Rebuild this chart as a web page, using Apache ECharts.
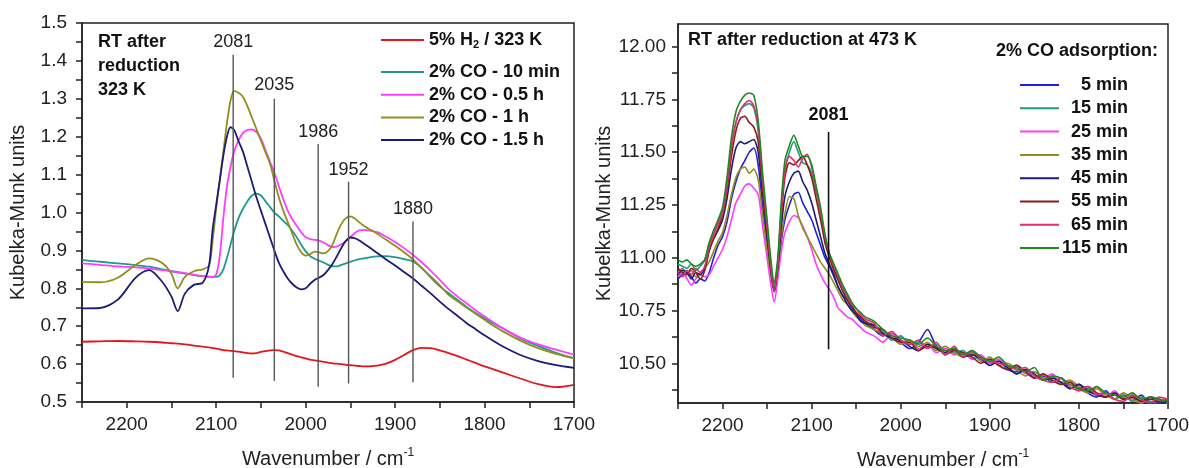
<!DOCTYPE html>
<html><head><meta charset="utf-8">
<script src="https://cdn.jsdelivr.net/npm/echarts@6/dist/echarts.min.js"></script>
<style>html,body{margin:0;padding:0;background:#fff}#c{width:1189px;height:468px}</style>
</head><body><div id="c"></div>
<script>
// ---------- LEFT PANEL DATA ----------
const wnLeft = [2250,2230,2210,2190,2175,2160,2150,2143,2135,2125,2115,2108,2104,2100,2096,2092,2088,2084,2080,2075,2070,2065,2060,2055,2050,2045,2040,2035,2030,2025,2020,2015,2010,2005,2000,1995,1990,1985,1980,1975,1970,1965,1960,1955,1950,1945,1940,1935,1930,1920,1910,1900,1890,1880,1870,1860,1850,1840,1830,1820,1810,1800,1790,1780,1760,1740,1720,1700];
const leftNames = ['5% H2 / 323 K','2% CO - 10 min','2% CO - 0.5 h','2% CO - 1 h','2% CO - 1.5 h'];
const h2_323K = [0.659,0.660,0.661,0.660,0.659,0.657,0.655,0.654,0.652,0.649,0.646,0.644,0.643,0.641,0.639,0.637,0.636,0.635,0.634,0.633,0.631,0.629,0.628,0.629,0.632,0.634,0.636,0.637,0.636,0.633,0.629,0.625,0.621,0.618,0.615,0.612,0.610,0.608,0.606,0.604,0.602,0.601,0.600,0.598,0.597,0.596,0.595,0.594,0.594,0.596,0.601,0.611,0.624,0.637,0.643,0.642,0.636,0.629,0.621,0.612,0.603,0.594,0.586,0.578,0.562,0.547,0.539,0.545];
const co_10min = [0.875,0.870,0.866,0.861,0.857,0.850,0.845,0.842,0.839,0.835,0.832,0.831,0.830,0.830,0.834,0.850,0.880,0.915,0.950,0.985,1.010,1.030,1.045,1.050,1.045,1.030,1.015,1.000,0.990,0.978,0.967,0.952,0.935,0.915,0.898,0.885,0.878,0.873,0.868,0.862,0.858,0.858,0.862,0.866,0.870,0.874,0.877,0.879,0.881,0.884,0.885,0.882,0.877,0.871,0.853,0.828,0.805,0.787,0.769,0.751,0.735,0.721,0.707,0.695,0.668,0.648,0.630,0.616];
const co_05h = [0.866,0.862,0.858,0.855,0.852,0.848,0.845,0.843,0.840,0.836,0.832,0.830,0.830,0.836,0.885,0.985,1.068,1.120,1.160,1.190,1.210,1.218,1.219,1.212,1.195,1.165,1.135,1.105,1.070,1.035,1.005,0.983,0.965,0.948,0.935,0.930,0.928,0.926,0.921,0.914,0.909,0.910,0.916,0.925,0.935,0.946,0.953,0.954,0.953,0.948,0.936,0.922,0.906,0.888,0.868,0.846,0.822,0.797,0.778,0.760,0.742,0.726,0.710,0.695,0.670,0.652,0.638,0.625];
const co_1h = [0.817,0.816,0.828,0.862,0.879,0.866,0.838,0.800,0.830,0.845,0.850,0.860,0.925,1.010,1.085,1.160,1.235,1.295,1.320,1.316,1.305,1.280,1.250,1.220,1.190,1.160,1.130,1.085,1.040,1.005,0.975,0.945,0.915,0.895,0.886,0.890,0.897,0.895,0.892,0.898,0.915,0.945,0.970,0.985,0.990,0.984,0.974,0.965,0.958,0.944,0.928,0.912,0.895,0.876,0.853,0.831,0.808,0.782,0.766,0.749,0.733,0.717,0.701,0.687,0.662,0.642,0.627,0.615];
const co_15h = [0.747,0.748,0.770,0.828,0.848,0.816,0.778,0.740,0.786,0.809,0.815,0.860,0.955,1.020,1.085,1.150,1.200,1.225,1.218,1.188,1.160,1.120,1.080,1.040,1.005,0.970,0.935,0.900,0.868,0.845,0.826,0.812,0.802,0.797,0.800,0.812,0.822,0.828,0.835,0.848,0.864,0.885,0.907,0.925,0.934,0.932,0.926,0.918,0.910,0.893,0.876,0.860,0.843,0.826,0.806,0.786,0.765,0.745,0.727,0.708,0.692,0.676,0.661,0.647,0.624,0.608,0.597,0.590];
const leftColors = ['#e8141c','#1e9a8c','#ff3cff','#8f8f1e','#1c1c78'];
// peak annotations (left)
const annLeftWn = [2081,2035,1986,1952,1880];
const annLeftTop = [1.416,1.300,1.181,1.081,0.976];
const annLeftBottom = [0.564,0.556,0.540,0.549,0.552];
const annLeftLabelY = [1.451,1.336,1.213,1.112,1.008];

// ---------- RIGHT PANEL DATA ----------
const wnRight = [2250,2245,2240,2235,2230,2225,2220,2215,2210,2205,2200,2195,2190,2185,2180,2175,2170,2165,2160,2155,2150,2146,2142,2138,2134,2130,2125,2120,2115,2110,2105,2100,2095,2090,2085,2080,2075,2070,2065,2060,2055,2050,2045,2040,2030,2020,2010,2000,1990,1980,1970,1960,1950,1940,1930,1920,1910,1900,1890,1880,1870,1860,1850,1840,1830,1820,1810,1800,1790,1780,1770,1760,1750,1740,1730,1720,1710,1700];
const rightNames = ['5 min','15 min','25 min','35 min','45 min','55 min','65 min','115 min'];
const t5 = [10.90,10.92,10.93,10.91,10.88,10.90,10.89,10.93,11.00,11.06,11.10,11.17,11.28,11.36,11.42,11.46,11.50,11.52,11.44,11.24,11.07,10.93,10.84,10.93,11.08,11.18,11.25,11.30,11.31,11.26,11.22,11.18,11.12,11.06,11.00,10.96,10.91,10.86,10.82,10.80,10.76,10.74,10.71,10.69,10.66,10.63,10.64,10.60,10.57,10.60,10.66,10.58,10.55,10.57,10.53,10.55,10.52,10.50,10.51,10.47,10.46,10.47,10.43,10.44,10.41,10.43,10.38,10.40,10.36,10.34,10.37,10.33,10.35,10.32,10.35,10.31,10.33,10.31];
const t15 = [10.97,10.96,10.95,10.97,10.94,10.96,10.99,11.07,11.12,11.17,11.22,11.36,11.53,11.64,11.70,11.72,11.73,11.71,11.60,11.36,11.15,10.97,10.86,10.98,11.23,11.42,11.50,11.55,11.50,11.45,11.44,11.40,11.31,11.21,11.09,11.01,10.95,10.90,10.85,10.81,10.78,10.74,10.72,10.70,10.68,10.65,10.61,10.63,10.59,10.60,10.57,10.59,10.56,10.55,10.56,10.52,10.53,10.50,10.51,10.49,10.45,10.47,10.44,10.42,10.44,10.40,10.41,10.37,10.38,10.35,10.36,10.33,10.35,10.32,10.34,10.32,10.31,10.33];
const t25 = [10.91,10.93,10.90,10.87,10.90,10.92,10.91,10.92,10.96,11.00,11.04,11.10,11.18,11.26,11.30,11.34,11.35,11.33,11.30,11.15,11.00,10.88,10.79,10.90,11.03,11.12,11.17,11.20,11.19,11.15,11.10,11.04,10.97,10.92,10.88,10.85,10.81,10.76,10.74,10.72,10.71,10.69,10.67,10.65,10.63,10.60,10.64,10.59,10.61,10.57,10.59,10.55,10.57,10.54,10.55,10.52,10.54,10.50,10.52,10.48,10.49,10.45,10.46,10.43,10.45,10.41,10.42,10.38,10.36,10.39,10.34,10.37,10.33,10.35,10.31,10.34,10.32,10.33];
const t35 = [10.93,10.95,10.92,10.94,10.91,10.93,10.95,10.98,11.03,11.08,11.12,11.20,11.30,11.38,11.42,11.43,11.40,11.42,11.37,11.20,11.04,10.93,10.85,10.95,11.10,11.21,11.29,11.28,11.20,11.14,11.10,11.06,11.02,10.98,10.95,10.92,10.88,10.84,10.80,10.78,10.75,10.72,10.70,10.68,10.66,10.64,10.62,10.59,10.61,10.58,10.60,10.56,10.58,10.55,10.53,10.55,10.51,10.53,10.49,10.50,10.47,10.44,10.46,10.43,10.42,10.40,10.42,10.39,10.36,10.38,10.35,10.33,10.36,10.33,10.31,10.34,10.33,10.31];
const t45 = [10.92,10.94,10.93,10.90,10.93,10.92,10.95,11.04,11.09,11.13,11.18,11.28,11.42,11.52,11.55,11.54,11.55,11.56,11.50,11.30,11.10,10.95,10.84,10.95,11.15,11.29,11.36,11.40,11.41,11.36,11.32,11.26,11.18,11.10,11.02,10.97,10.92,10.86,10.82,10.78,10.75,10.73,10.70,10.69,10.68,10.64,10.62,10.61,10.58,10.56,10.59,10.57,10.55,10.57,10.53,10.54,10.52,10.49,10.51,10.48,10.45,10.47,10.45,10.42,10.43,10.41,10.38,10.40,10.37,10.35,10.34,10.36,10.33,10.34,10.32,10.34,10.31,10.32];
const t55 = [10.95,10.93,10.92,10.95,10.93,10.90,10.94,11.03,11.09,11.14,11.20,11.32,11.48,11.60,11.66,11.67,11.64,11.62,11.55,11.33,11.12,10.96,10.85,10.97,11.20,11.38,11.45,11.44,11.46,11.48,11.44,11.38,11.28,11.18,11.07,11.00,10.94,10.89,10.84,10.80,10.77,10.74,10.72,10.70,10.67,10.66,10.62,10.60,10.60,10.56,10.58,10.58,10.54,10.56,10.55,10.53,10.50,10.52,10.49,10.47,10.49,10.46,10.43,10.45,10.42,10.40,10.41,10.38,10.39,10.36,10.34,10.35,10.33,10.34,10.32,10.33,10.32,10.33];
const t65 = [10.93,10.91,10.94,10.92,10.95,10.93,10.96,11.05,11.11,11.16,11.21,11.34,11.52,11.64,11.70,11.73,11.745,11.72,11.62,11.37,11.15,10.97,10.84,10.97,11.22,11.41,11.48,11.46,11.43,11.47,11.49,11.43,11.33,11.22,11.10,11.02,10.96,10.91,10.86,10.82,10.78,10.76,10.73,10.71,10.69,10.63,10.65,10.61,10.59,10.61,10.57,10.60,10.54,10.58,10.53,10.56,10.52,10.51,10.50,10.49,10.47,10.48,10.44,10.42,10.41,10.43,10.39,10.37,10.39,10.35,10.36,10.33,10.32,10.35,10.33,10.31,10.34,10.33];
const t115 = [10.99,10.98,10.99,10.97,10.96,10.97,10.99,11.07,11.13,11.18,11.24,11.38,11.57,11.69,11.74,11.77,11.78,11.77,11.65,11.40,11.18,11.00,10.88,11.00,11.27,11.46,11.53,11.58,11.53,11.48,11.48,11.44,11.34,11.24,11.11,11.02,10.97,10.92,10.87,10.83,10.79,10.76,10.74,10.72,10.70,10.66,10.63,10.62,10.61,10.59,10.62,10.58,10.56,10.57,10.54,10.56,10.53,10.51,10.53,10.49,10.48,10.46,10.48,10.42,10.44,10.43,10.40,10.38,10.37,10.39,10.36,10.35,10.34,10.36,10.33,10.34,10.33,10.32];
const rightColors = ['#1f1fe0','#1e9a8c','#ff3cff','#8f8f1e','#1c1c78','#8b1c1c','#e0306e','#1e8a1e'];
const annRightWn = [2081];
const annRightTop = [11.596];
const annRightBottom = [10.566];
const annRightLabelY = [11.676];
const rightTickVals = [10.375,10.5,10.625,10.75,10.875,11.0,11.125,11.25,11.375,11.5,11.625,11.75,11.875,12.0];
const rightLabelVals = [10.5,10.75,11.0,11.25,11.5,11.75,12.0];

// ---------- CHART ----------
const FONT = '"Liberation Sans", Arial, sans-serif';
const AX = '#222';
const pair = (xs, ys) => xs.map((x, i) => [x, ys[i]]);
const leftData = [h2_323K, co_10min, co_05h, co_1h, co_15h];
const rightData = [t5, t15, t25, t35, t45, t55, t65, t115];

function xAxisCfg(grid, namePad) {
  return {
    type: 'value', gridIndex: grid, min: 1700, max: 2250, interval: 50, inverse: true,
    axisLine: { show: true, onZero: false, lineStyle: { color: AX, width: 1.5 } },
    axisTick: { show: true, inside: false, length: 6, lineStyle: { color: AX, width: 1.5 } },
    axisLabel: { fontSize: 19, color: AX, fontFamily: FONT, margin: 13,
      formatter: v => (v % 100 === 0) ? String(v) : '' },
    splitLine: { show: false },
    name: 'Wavenumber / cm{sup|-1}', nameLocation: 'middle', nameGap: 45,
    nameTextStyle: { fontSize: 20, color: AX, fontFamily: FONT, lineHeight: 24, padding: namePad,
      rich: { sup: { fontSize: 12, fontFamily: FONT, color: AX, verticalAlign: 'top', lineHeight: 12 } } }
  };
}
function yAxisBase(grid) {
  return {
    type: 'value', gridIndex: grid,
    axisLine: { show: true, onZero: false, lineStyle: { color: AX, width: 1.5 } },
    splitLine: { show: false },
    name: 'Kubelka-Munk units', nameLocation: 'middle',
    nameTextStyle: { fontSize: 20, color: AX, fontFamily: FONT }
  };
}

const series = [];
leftNames.forEach((n, i) => series.push({
  name: n, type: 'line', xAxisIndex: 0, yAxisIndex: 0, data: pair(wnLeft, leftData[i]),
  showSymbol: false, symbol: 'none', smooth: 0.3, lineStyle: { color: leftColors[i], width: 1.8 },
  itemStyle: { color: leftColors[i] }, silent: true, z: 3 + i
}));
annLeftWn.forEach((w, i) => series.push({
  type: 'line', xAxisIndex: 0, yAxisIndex: 0, data: [[w, annLeftBottom[i]], [w, annLeftTop[i]]],
  showSymbol: false, symbol: 'none', lineStyle: { color: '#555', width: 1.4 }, silent: true, z: 10
}));
series.push({
  type: 'scatter', xAxisIndex: 0, yAxisIndex: 0, data: annLeftWn.map((w, i) => [w, annLeftLabelY[i]]),
  symbolSize: 1, itemStyle: { color: 'rgba(0,0,0,0)' }, silent: true, z: 11,
  label: { show: true, position: 'inside', formatter: p => String(p.value[0]), fontSize: 18, color: '#222', opacity: 1, fontFamily: FONT }
});
rightNames.forEach((n, i) => series.push({
  name: n, type: 'line', xAxisIndex: 1, yAxisIndex: 1, data: pair(wnRight, rightData[i]),
  showSymbol: false, symbol: 'none', smooth: 0.25, lineStyle: { color: rightColors[i], width: 1.6 },
  itemStyle: { color: rightColors[i] }, silent: true, z: 3 + i
}));
annRightWn.forEach((w, i) => series.push({
  type: 'line', xAxisIndex: 1, yAxisIndex: 1, data: [[w, annRightBottom[i]], [w, annRightTop[i]]],
  showSymbol: false, symbol: 'none', lineStyle: { color: '#111', width: 1.6 }, silent: true, z: 12
}));
series.push({
  type: 'scatter', xAxisIndex: 1, yAxisIndex: 1, data: annRightWn.map((w, i) => [w, annRightLabelY[i]]),
  symbolSize: 1, itemStyle: { color: 'rgba(0,0,0,0)' }, silent: true, z: 13,
  label: { show: true, position: 'inside', formatter: p => String(p.value[0]), fontSize: 18, fontWeight: 'bold', color: '#111', opacity: 1, fontFamily: FONT }
});

const legendText = { fontSize: 18, fontWeight: 'bold', color: '#111', fontFamily: FONT, lineHeight: 20 };
const yLeft = Object.assign(yAxisBase(0), {
  min: 0.5, max: 1.5, interval: 0.05, nameGap: 54,
  axisTick: { show: true, inside: false, length: 6, lineStyle: { color: AX, width: 1.5 } },
  axisLabel: { fontSize: 19, color: AX, fontFamily: FONT, margin: 15,
    formatter: v => { const r = Math.round(v * 100); return r % 10 === 0 ? (r / 100).toFixed(1) : ''; } }
});
const yRight = Object.assign(yAxisBase(1), {
  min: 10.312, max: 12.107, nameGap: 63,
  axisTick: { show: true, inside: false, length: 6, customValues: rightTickVals, lineStyle: { color: AX, width: 1.5 } },
  axisLabel: { fontSize: 19, color: AX, fontFamily: FONT, margin: 12, customValues: rightLabelVals,
    formatter: v => Number(v).toFixed(2) }
});
const option = {
  animation: false,
  backgroundColor: '#fff',
  grid: [
    { left: 82, top: 23, width: 492, height: 379, show: true, borderColor: AX, borderWidth: 1.5, backgroundColor: 'transparent', containLabel: false, outerBoundsMode: 'none' },
    { left: 678, top: 24, width: 490, height: 379, show: true, borderColor: AX, borderWidth: 1.5, backgroundColor: 'transparent', containLabel: false, outerBoundsMode: 'none' }
  ],
  xAxis: [xAxisCfg(0, [0, 0, 0, 0]), xAxisCfg(1, [0, 0, 0, 40])],
  yAxis: [yLeft, yRight],
  legend: [
    { data: [leftNames[0]], orient: 'vertical', left: 381, top: 30, padding: 0, icon: 'rect', itemWidth: 43, itemHeight: 2, itemGap: 3,
      selectedMode: false,
      formatter: () => '5% H{sub|2} / 323 K',
      textStyle: Object.assign({}, legendText, { rich: { sub: { fontSize: 11, fontWeight: 'bold', fontFamily: FONT, color: '#111', verticalAlign: 'bottom', lineHeight: 12 } } }) },
    { data: leftNames.slice(1), orient: 'vertical', left: 381, top: 62, padding: 0, icon: 'rect', itemWidth: 43, itemHeight: 2, itemGap: 2.7,
      selectedMode: false, textStyle: legendText },
    { data: rightNames, orient: 'vertical', left: 1020, top: 75, padding: 0, icon: 'rect', itemWidth: 39, itemHeight: 2, itemGap: 3.3,
      selectedMode: false, formatter: n => '{r|' + n + '}',
      textStyle: Object.assign({}, legendText, { rich: { r: { width: 64, align: 'right', fontSize: 18, fontWeight: 'bold', fontFamily: FONT, color: '#111', lineHeight: 20 } } }) }
  ],
  graphic: [
    { type: 'text', left: 98, top: 30, style: { text: 'RT after\nreduction\n323 K', font: 'bold 18px "Liberation Sans", Arial, sans-serif', lineHeight: 24, fill: '#111' } },
    { type: 'text', left: 688, top: 31, style: { text: 'RT after reduction at 473 K', font: 'bold 18px "Liberation Sans", Arial, sans-serif', fill: '#111' } },
    { type: 'text', left: 996, top: 42, style: { text: '2% CO adsorption:', font: 'bold 18px "Liberation Sans", Arial, sans-serif', fill: '#111' } }
  ],
  series: series
};
const chart = echarts.init(document.getElementById('c'), null, { renderer: 'canvas' });
chart.setOption(option);
</script>
</body></html>
